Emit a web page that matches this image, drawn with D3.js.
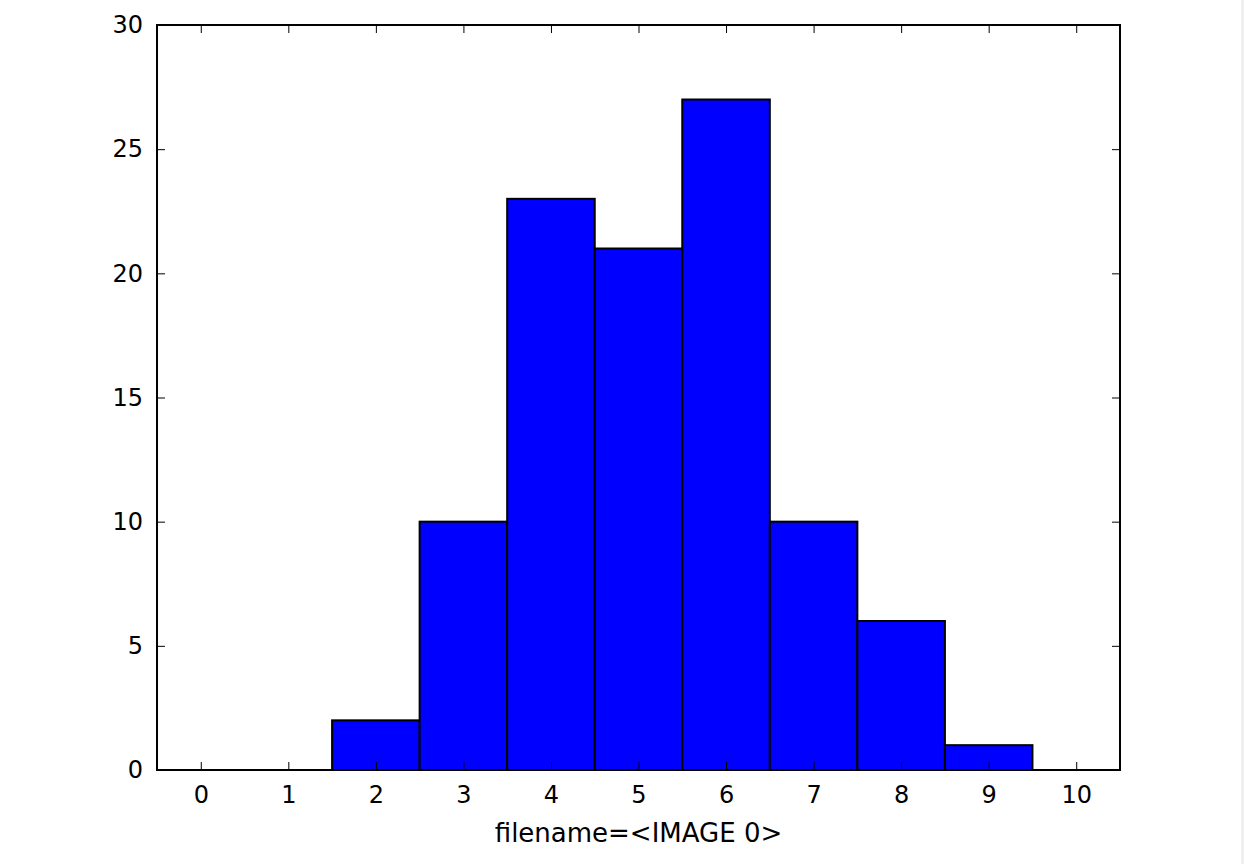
<!DOCTYPE html>
<html>
<head>
<meta charset="utf-8">
<script src="https://cdn.jsdelivr.net/npm/d3@7"></script>
<style>
  html, body { margin: 0; padding: 0; background: #fff; }
  svg text { font-family: "DejaVu Sans", sans-serif; fill: #000; }
</style>
</head>
<body>
<svg id="chart" width="1244" height="864"></svg>
<script>
// histogram bins (centre of each bin) and counts
const bins = [0, 1, 2, 3, 4, 5, 6, 7, 8, 9];
const counts = [0, 0, 2, 10, 23, 21, 27, 10, 6, 1];
const xTicks = [0, 1, 2, 3, 4, 5, 6, 7, 8, 9, 10];
const yTicks = [0, 5, 10, 15, 20, 25, 30];
const xLabel = 'filename=<IMAGE 0>';

const width = 1244;
const height = 864;
const margin = {top: 25, right: 124, bottom: 94, left: 157};

const svg = d3.select('#chart');

const x = d3.scaleLinear()
    .domain([-0.5, 10.5])
    .range([margin.left, width - margin.right]);

const y = d3.scaleLinear()
    .domain([0, 30])
    .range([height - margin.bottom, margin.top]);

// faint edge strip on the right
svg.append('rect')
    .attr('x', 1241).attr('y', 0)
    .attr('width', 3).attr('height', height)
    .attr('fill', '#f0f0f0');

// bars
svg.append('g')
    .selectAll('rect')
    .data(bins)
    .join('rect')
    .attr('x', d => x(d - 0.5))
    .attr('y', (d, i) => y(counts[i]))
    .attr('width', d => x(d + 0.5) - x(d - 0.5))
    .attr('height', (d, i) => y(0) - y(counts[i]))
    .attr('fill', '#0000ff')
    .attr('stroke', '#000')
    .attr('stroke-width', 2);

const tickLen = 8;

// bottom + top axes (ticks inside)
const xBottom = svg.append('g')
    .attr('transform', `translate(0,${y(0)})`)
    .call(d3.axisBottom(x).tickValues(xTicks).tickSize(-tickLen).tickPadding(16).tickSizeOuter(0));
const xTop = svg.append('g')
    .attr('transform', `translate(0,${y(30)})`)
    .call(d3.axisTop(x).tickValues(xTicks).tickSize(-tickLen).tickFormat('').tickSizeOuter(0));

// left + right axes
const yLeft = svg.append('g')
    .attr('transform', `translate(${x(-0.5)},0)`)
    .call(d3.axisLeft(y).tickValues(yTicks).tickSize(-tickLen).tickPadding(14).tickSizeOuter(0));
const yRight = svg.append('g')
    .attr('transform', `translate(${x(10.5)},0)`)
    .call(d3.axisRight(y).tickValues(yTicks).tickSize(-tickLen).tickFormat('').tickSizeOuter(0));

[xBottom, xTop, yLeft, yRight].forEach(g => {
    g.select('.domain').remove();
    g.selectAll('.tick line').attr('stroke', '#000').attr('stroke-width', 1);
    g.selectAll('.tick text')
        .style('font-family', '"DejaVu Sans", sans-serif')
        .style('font-size', '24px')
        .attr('fill', '#000');
});

// frame
svg.append('rect')
    .attr('x', x(-0.5)).attr('y', y(30))
    .attr('width', x(10.5) - x(-0.5))
    .attr('height', y(0) - y(30))
    .attr('fill', 'none')
    .attr('stroke', '#000')
    .attr('stroke-width', 2);

// x label
svg.append('text')
    .attr('x', (x(-0.5) + x(10.5)) / 2)
    .attr('y', 842)
    .attr('text-anchor', 'middle')
    .style('font-size', '26px')
    .text(xLabel);
</script>
</body>
</html>
